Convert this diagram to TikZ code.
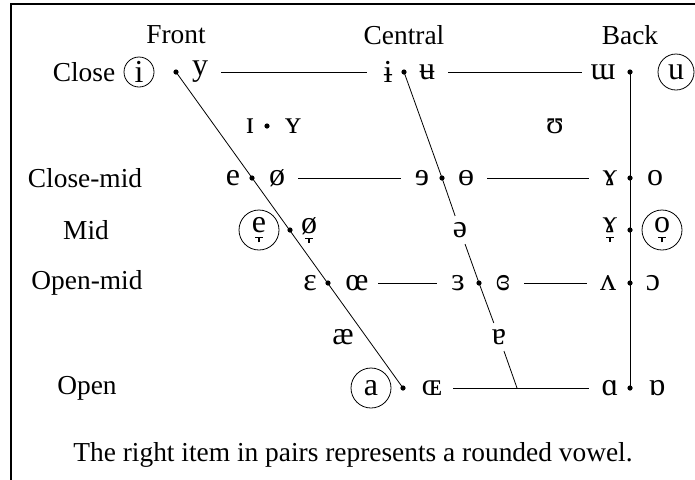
\documentclass[tikz,border=0pt]{standalone}
\usepackage{fontspec}
\setmainfont{Liberation Serif}
\newcommand{\lowtack}[1]{\ooalign{#1\cr\hidewidth\raisebox{-0.17em}{\rule{0.22em}{0.035em}}\hidewidth\cr\hidewidth\raisebox{-0.3em}{\rule{0.035em}{0.14em}}\hidewidth\cr}}
\begin{document}
\begin{tikzpicture}[
  x=0.5pt, y=-0.5pt,
  font=\fontsize{13.7}{16}\selectfont,
  vowel/.style={inner sep=0pt, minimum width=21pt, font=\fontsize{16}{18}\selectfont},
  onl/.style={inner sep=3pt, font=\fontsize{16}{18}\selectfont},
  vdot/.style={circle, fill, inner sep=0pt, minimum size=2.6pt},
  ring/.style={draw, circle, inner sep=0pt, minimum size=#1, font=\fontsize{16}{18}\selectfont},
  rowlab/.style={inner sep=0pt},
  colhead/.style={inner sep=0pt}
]
\useasboundingbox (0,0) rectangle (695,479);
\begin{scope}
  \clip (0,0) rectangle (695,479);
  \draw[line width=0.6pt] (11,4) rectangle (720,500);
\end{scope}

\node[colhead] (front) at (176,35) {Front};
\node[colhead] (central) at (404,35) {Central};
\node[colhead] (back) at (630,35) {Back};

\node[rowlab] (close) at (84,72) {Close};
\node[rowlab] (closemid) at (85,178) {Close-mid};
\node[rowlab] (mid) at (86,230) {Mid};
\node[rowlab] (openmid) at (87,283) {Open-mid};
\node[rowlab] (open) at (87,388) {Open};

\node[ring=15pt] (i) at (139,72) {i};
\node[vdot] (fc) at (176,72) {};
\node[vowel] (y) at (200,72) {y};
\node[vowel] (ibar) at (388,72) {ɨ};
\node[vdot] (cc) at (404,72) {};
\node[vowel] (ubar) at (427,72) {ʉ};
\node[vowel] (turnm) at (603,72) {ɯ};
\node[vdot] (bc) at (630,72) {};
\node[ring=18pt] (u) at (676,72) {u};

\node[vowel] (smi) at (250,126) {ɪ};
\node[vdot] (nf) at (267,126) {};
\node[vowel] (smy) at (293,126) {ʏ};
\node[vowel] (hsu) at (555,126) {ʊ};

\node[vowel] (e) at (233,178) {e};
\node[vdot] (fcm) at (252,178) {};
\node[vowel] (oslash) at (277,178) {ø};
\node[vowel] (reve) at (422,178) {ɘ};
\node[vdot] (ccm) at (442,178) {};
\node[vowel] (baro) at (466,178) {ɵ};
\node[vowel] (rams) at (610,178) {ɤ};
\node[vdot] (bcm) at (630,178) {};
\node[vowel] (o) at (655,178) {o};

\node[ring=20pt] (elow) at (259,230) {\lowtack{e}};
\node[vdot] (fm) at (290,230) {};
\node[vowel] (oslashlow) at (309,230) {\lowtack{ø}};
\node[onl] (schwa) at (460,230) {ə};
\node[vowel] (ramslow) at (610,230) {\lowtack{ɤ}};
\node[vdot] (bm) at (630,230) {};
\node[ring=20pt] (olow) at (662,230) {\lowtack{o}};

\node[vowel] (eps) at (310,283) {ɛ};
\node[vdot] (fom) at (328,283) {};
\node[vowel] (oe) at (357,283) {œ};
\node[vowel] (reveps) at (458,283) {ɜ};
\node[vdot] (com) at (479,283) {};
\node[vowel] (creveps) at (503,283) {ɞ};
\node[vowel] (turnv) at (608,283) {ʌ};
\node[vdot] (bom) at (630,283) {};
\node[vowel] (oopen) at (653,283) {ɔ};

\node[vowel] (ae) at (343,337) {æ};
\node[onl] (turna) at (499,337) {ɐ};

\node[ring=20pt] (a) at (371,388) {a};
\node[vdot] (fo) at (403,388) {};
\node[vowel] (soe) at (432,388) {ɶ};
\node[vowel] (alpha) at (610,388) {ɑ};
\node[vdot] (bo) at (630,388) {};
\node[vowel] (turnalpha) at (657,388) {ɒ};
\coordinate (co) at (517,388);

\draw (fc.center) -- (fo.center);
\draw (cc.center) -- (ccm.center) -- (schwa);
\draw (schwa) -- (com.center) -- (turna);
\draw (turna) -- (co);
\draw (bc.center) -- (bo.center);
\draw (y) -- (ibar);
\draw (ubar) -- (turnm);
\draw (oslash) -- (reve);
\draw (baro) -- (rams);
\draw (oe) -- (reveps);
\draw (creveps) -- (turnv);
\draw (soe) -- (alpha);

\node (note) at (353,455) {The right item in pairs represents a rounded vowel.};
\end{tikzpicture}
\end{document}
